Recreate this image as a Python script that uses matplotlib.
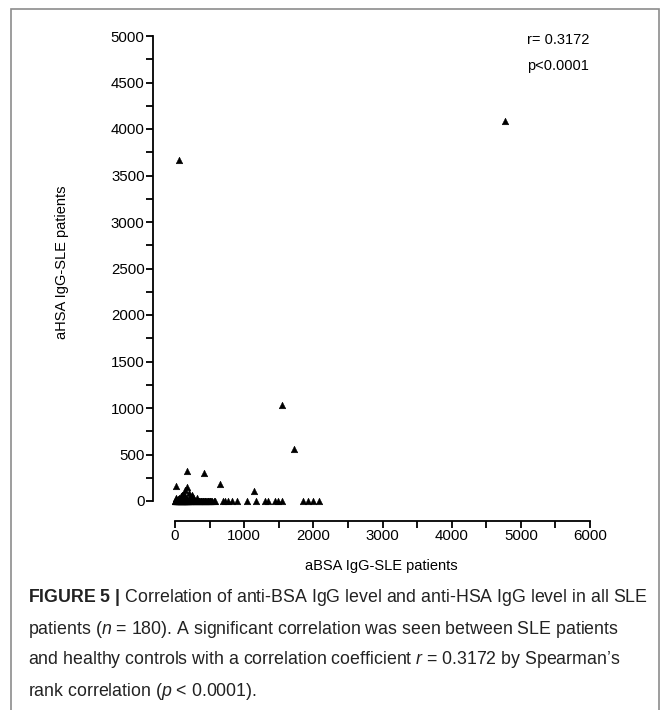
import numpy as np
import matplotlib.pyplot as plt
from matplotlib.patches import Rectangle

plt.rcParams['font.family'] = ['Liberation Sans', 'DejaVu Sans']
plt.rcParams['mathtext.fontset'] = 'custom'
plt.rcParams['mathtext.rm'] = 'Liberation Sans'
plt.rcParams['mathtext.it'] = 'Liberation Sans:italic'
plt.rcParams['mathtext.bf'] = 'Liberation Sans:bold'

# aBSA (x) vs aHSA (y) IgG levels, SLE patients
# outliers and scattered points
x_high = [4770, 60, 1550, 1720, 170, 420, 15, 650, 1140, 175, 100, 215, 130, 260, 320, 90, 200, 150, 240, 60]
y_high = [4090, 3670, 1030, 560, 320, 300, 160, 185, 110, 150, 65, 45, 70, 40, 30, 50, 90, 120, 60, 30]

# points sitting at / near zero
x_zero = [0, 5, 10, 15, 20, 25, 30, 35, 40, 45, 50, 55, 60, 65, 70, 75, 80, 85, 90, 95,
          100, 105, 110, 115, 120, 125, 130, 135, 140, 145, 150, 155, 160, 165, 170, 175,
          180, 185, 190, 195, 200, 210, 220, 230, 240, 250, 260, 270, 280, 290, 300, 310,
          320, 330, 340, 350, 360, 370, 380, 390, 400, 410, 420, 430, 440, 450, 460, 470,
          480, 490, 500, 510, 520, 540, 560, 580, 700, 730, 760, 820, 900, 1040, 1170,
          1300, 1350, 1445, 1490, 1545, 1850, 1920, 2000, 2080,
          10, 30, 50, 70, 90, 110, 130, 160, 190, 220, 250, 280, 20, 45, 80, 120, 170, 230]
y_zero = [0, 0, 0, 0, 0, 0, 0, 0, 0, 0, 0, 0, 0, 0, 0, 0, 0, 0, 0, 0,
          0, 0, 0, 0, 0, 0, 0, 0, 0, 0, 0, 0, 0, 0, 0, 0,
          0, 0, 0, 0, 0, 0, 0, 0, 0, 0, 0, 0, 0, 0, 0, 0,
          0, 0, 0, 0, 0, 0, 0, 0, 0, 0, 0, 0, 0, 0, 0, 0,
          0, 0, 0, 0, 0, 0, 0, 0, 0, 0, 0, 0, 0, 0, 0,
          0, 0, 0, 0, 0, 0, 0, 0, 0,
          20, 15, 25, 10, 30, 20, 15, 25, 10, 15, 20, 10, 35, 10, 20, 30, 15, 10]

x_all = np.array(x_high + x_zero)
y_all = np.array(y_high + y_zero)

W, H = 669, 710
fig = plt.figure(figsize=(W / 100, H / 100), dpi=100)

# axes box = data range, spines pushed outward like Prism
x0, x1 = 175, 590
y0, y1 = 501, 36
ax = fig.add_axes([x0 / W, 1 - y0 / H, (x1 - x0) / W, (y0 - y1) / H])
ax.scatter(x_all, y_all, marker='^', s=22, color='black', edgecolors='black',
           linewidths=0.4, clip_on=False, zorder=3)

ax.set_xlim(0, 6000)
ax.set_ylim(0, 5000)
ax.set_xticks(np.arange(0, 6001, 1000))
ax.set_xticks(np.arange(0, 6001, 500), minor=True)
ax.set_yticks(np.arange(0, 5001, 500))
ax.set_yticks(np.arange(0, 5001, 250), minor=True)

for s in ['top', 'right']:
    ax.spines[s].set_visible(False)
ax.spines['left'].set_position(('outward', 22 * 0.72))
ax.spines['bottom'].set_position(('outward', 20 * 0.72))
for s in ['left', 'bottom']:
    ax.spines[s].set_linewidth(1.3)

ax.tick_params(which='both', direction='out', length=5, width=1.3, labelsize=10.8, pad=1)
ax.patch.set_visible(False)

fig.text(62 / W, 1 - 262 / H, 'aHSA IgG-SLE patients', rotation=90, ha='center', va='center', fontsize=10.5)
fig.text(381 / W, 1 - 566 / H, 'aBSA IgG-SLE patients', ha='center', va='center', fontsize=10.5)
fig.text(527 / W, 1 - 40 / H, 'r= 0.3172', ha='left', va='center', fontsize=10.5)
fig.text(527 / W, 1 - 66 / H, 'p<0.0001', ha='left', va='center', fontsize=10.5)

# caption
cap = [
    r'$\mathbf{FIGURE\ 5\ |}$ Correlation of anti-BSA IgG level and anti-HSA IgG level in all SLE',
    r'patients ($n$ = 180). A significant correlation was seen between SLE patients',
    r'and healthy controls with a correlation coefficient $r$ = 0.3172 by Spearman' + '\u2019s',
    r'rank correlation ($p$ < 0.0001).',
]
cap_y = [598, 629, 660, 691]
for line, yy in zip(cap, cap_y):
    fig.text(28 / W, 1 - yy / H, line, ha='left', va='center', fontsize=12.8, color='#222222')

# frame around figure + caption
fig.patches.append(Rectangle((11 / W, -0.05), (659 - 11) / W, 1.05 - 9 / H,
                             transform=fig.transFigure, fill=False, edgecolor='#8c8c8c',
                             linewidth=1.2, clip_on=False))

fig.savefig('out.png', dpi=100)
